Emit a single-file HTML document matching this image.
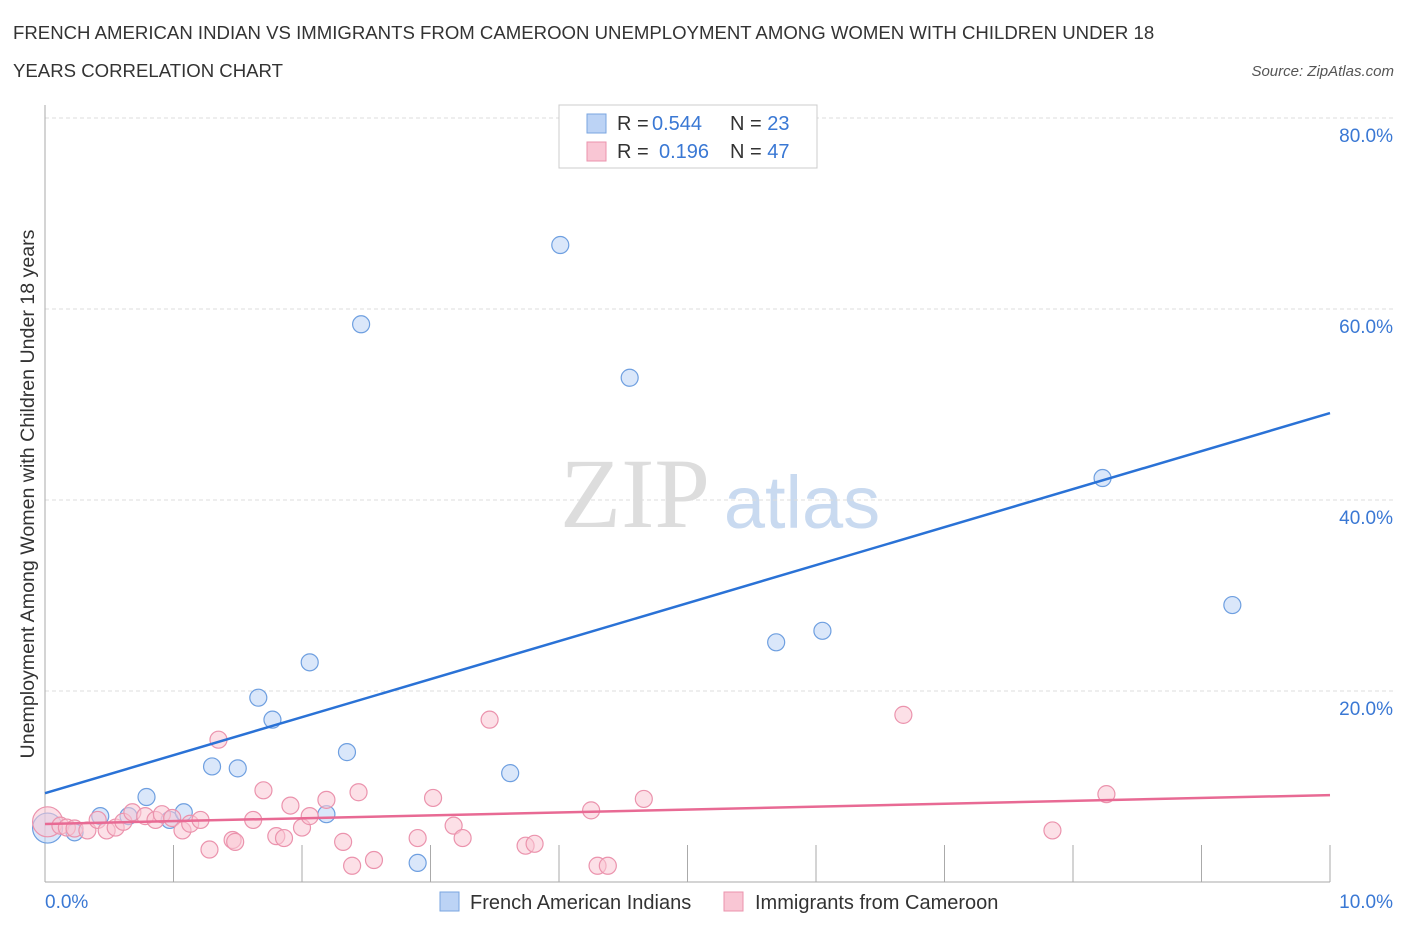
<!DOCTYPE html>
<html><head><meta charset="utf-8"><style>
body{margin:0;background:#fff;font-family:"Liberation Sans",sans-serif;}
</style></head><body>
<svg id="c" width="1406" height="930" xmlns="http://www.w3.org/2000/svg" font-family="Liberation Sans, sans-serif">
<text x="13" y="39" font-size="18.6" fill="#333">FRENCH AMERICAN INDIAN VS IMMIGRANTS FROM CAMEROON UNEMPLOYMENT AMONG WOMEN WITH CHILDREN UNDER 18</text>
<text x="13" y="77" font-size="18.6" fill="#333">YEARS CORRELATION CHART</text>
<text x="1394" y="76" font-size="15" fill="#555" font-style="italic" text-anchor="end">Source: ZipAtlas.com</text>
<text x="34" y="494" font-size="19.6" fill="#333" text-anchor="middle" transform="rotate(-90 34 494)">Unemployment Among Women with Children Under 18 years</text>
<g>
<text x="635" y="527" font-size="100" fill="#ddd" font-family="Liberation Serif, serif" text-anchor="middle">ZIP</text>
<text x="802" y="528" font-size="74" fill="#c9daf0" text-anchor="middle">atlas</text>
</g>
<g id="grid"></g><g id="axes"></g><g id="marks"></g>
<g>
<rect x="559" y="105" width="258" height="63" fill="#fff" stroke="#ccc"/>
<rect x="587" y="114" width="19" height="19" fill="#bcd3f5" stroke="#7aa6e0"/>
<text x="617" y="130" font-size="20" fill="#333">R = <tspan x="652" fill="#3a78d4">0.544</tspan><tspan x="730">N = </tspan><tspan fill="#3a78d4">23</tspan></text>
<rect x="587" y="142" width="19" height="19" fill="#f9c6d4" stroke="#eb93ad"/>
<text x="617" y="158" font-size="20" fill="#333">R = <tspan x="659" fill="#3a78d4">0.196</tspan><tspan x="730">N = </tspan><tspan fill="#3a78d4">47</tspan></text>
</g>
<g>
<rect x="440" y="892" width="19" height="19" fill="#bcd3f5" stroke="#7aa6e0"/>
<text x="470" y="909" font-size="20" fill="#333">French American Indians</text>
<rect x="724" y="892" width="19" height="19" fill="#f9c6d4" stroke="#eb93ad"/>
<text x="755" y="909" font-size="20" fill="#333">Immigrants from Cameroon</text>
</g>
</svg>
<script>
const yTicks=[20,40,60,80];
const yTickLabels=["20.0%","40.0%","60.0%","80.0%"];
const xTickLabels=["0.0%","10.0%"];
const blueX=[0.02,0.23,0.43,0.65,0.79,0.97,1.08,1.30,1.50,1.66,1.77,2.06,2.19,2.35,2.46,2.90,3.62,4.01,4.55,5.69,6.05,8.23,9.24];
const blueY=[5.65,5.2,6.9,6.9,8.9,6.5,7.3,12.1,11.9,19.3,17.0,23.0,7.1,13.6,58.4,2.0,11.4,66.7,52.8,25.1,26.3,42.3,29.0];
const pinkX=[0.02,0.12,0.17,0.23,0.33,0.41,0.48,0.55,0.61,0.68,0.78,0.86,0.91,0.99,1.07,1.13,1.21,1.28,1.35,1.46,1.48,1.62,1.70,1.80,1.86,1.91,2.00,2.06,2.19,2.32,2.39,2.44,2.56,2.90,3.02,3.18,3.25,3.46,3.74,3.81,4.25,4.30,4.38,4.66,6.68,7.84,8.26];
const pinkY=[6.3,5.9,5.7,5.6,5.4,6.5,5.4,5.7,6.3,7.3,6.9,6.5,7.1,6.7,5.4,6.1,6.5,3.4,14.9,4.4,4.2,6.5,9.6,4.8,4.6,8.0,5.7,6.9,8.6,4.2,1.7,9.4,2.3,4.6,8.8,5.9,4.6,17.0,3.8,4.0,7.5,1.7,1.7,8.7,17.5,5.4,9.2];
const blueTrend=[9.3,49.1];
const pinkTrend=[6.07,9.1];
const X=v=>45+v*128.5, Y=v=>882-v*9.55;
const NS="http://www.w3.org/2000/svg";
function mk(p,t,a){const e=document.createElementNS(NS,t);for(const k in a)e.setAttribute(k,a[k]);p.appendChild(e);return e;}
const grid=document.getElementById('grid'),axes=document.getElementById('axes'),marks=document.getElementById('marks');
yTicks.forEach((t,i)=>{
 const l=mk(grid,'line',{x1:45,x2:1395,y1:Y(t),y2:Y(t),stroke:'#ddd','stroke-dasharray':'4,3'});
 
 
 const tx=mk(grid,'text',{x:1393,y:Y(t)+24,'font-size':19,fill:'#3a78d4','text-anchor':'end'});
 tx.textContent=yTickLabels[i];
 
 
});
const ax=mk(axes,'line',{x1:45,x2:45,y1:105,y2:882,stroke:'#aaa'});


const bx=mk(axes,'line',{x1:45,x2:1330,y1:882,y2:882,stroke:'#aaa'});


for(let i=1;i<=10;i++){const t=mk(axes,'line',{x1:X(i),x2:X(i),y1:845,y2:882,stroke:'#aaa'});
 
 }
[[0,'start',45],[10,'end',1393]].forEach((d,i)=>{const t=mk(axes,'text',{x:d[2],y:908,'font-size':19,fill:'#3a78d4','text-anchor':d[1]});t.textContent=xTickLabels[i];
 
 });
function pts(xs,ys,fill,stroke,name){xs.forEach((x,i)=>{const c=mk(marks,'circle',{cx:X(x),cy:Y(ys[i]),r:i===0?15:8.5,fill:fill,'fill-opacity':0.55,stroke:stroke,'stroke-width':1.2});
 
 });}
pts(blueX,blueY,'#bcd3f5','#6e9fe0','point-french');
pts(pinkX,pinkY,'#f9c6d4','#eb93ad','point-cameroon');
const bl=mk(marks,'line',{x1:X(0),y1:Y(blueTrend[0]),x2:X(10),y2:Y(blueTrend[1]),stroke:'#2a72d6','stroke-width':2.5});


const pl=mk(marks,'line',{x1:X(0),y1:Y(pinkTrend[0]),x2:X(10),y2:Y(pinkTrend[1]),stroke:'#e86a94','stroke-width':2.5});


</script>
</body></html>
